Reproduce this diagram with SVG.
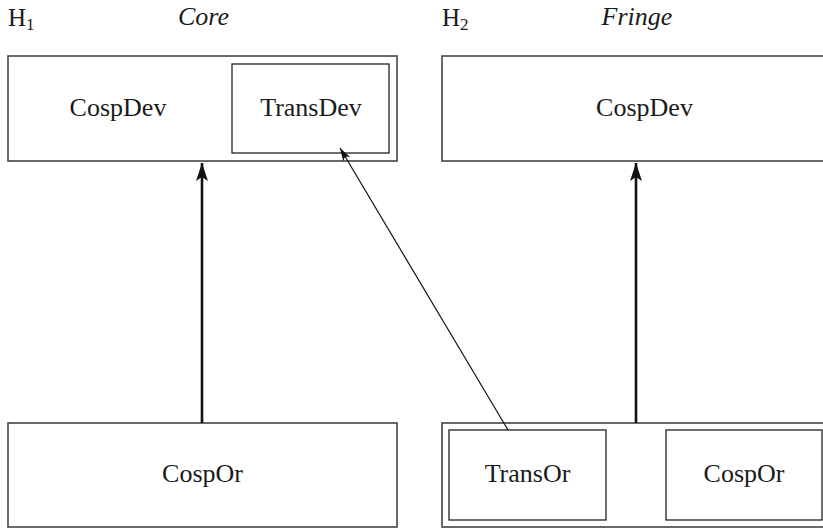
<svg xmlns="http://www.w3.org/2000/svg" width="823" height="529" viewBox="0 0 823 529">
<style>
  text { font-family: "Liberation Serif", "Times New Roman", serif; fill: #1a1a1a; }
  .lbl { font-size: 26px; text-anchor: middle; }
  .ttl { font-size: 26px; font-style: italic; text-anchor: middle; }
  .h { font-size: 25px; }
  .sub { font-size: 17px; }
  .outer { fill: none; stroke: #444; stroke-width: 1.6; }
  .inner { fill: none; stroke: #222; stroke-width: 1.3; }
  .thick { stroke: #111; stroke-width: 2.6; fill: none; }
  .thin { stroke: #111; stroke-width: 1.2; fill: none; }
</style>
<defs>
  <marker id="bigArrow" markerUnits="userSpaceOnUse" markerWidth="20" markerHeight="14" viewBox="0 0 20 14" refX="18" refY="7" orient="auto">
    <path d="M0,1 L18,7 L0,13 L4,7 Z" fill="#111"/>
  </marker>
  <marker id="smallArrow" markerUnits="userSpaceOnUse" markerWidth="14" markerHeight="10" viewBox="0 0 14 10" refX="13" refY="5" orient="auto">
    <path d="M0,1 L13,5 L0,9 L3,5 Z" fill="#111"/>
  </marker>
</defs>

<g id="headers">
  <text class="h" x="8" y="26">H<tspan class="sub" dy="4">1</tspan></text>
  <text class="ttl" x="203.5" y="25">Core</text>
  <text class="h" x="442" y="26">H<tspan class="sub" dy="4">2</tspan></text>
  <text class="ttl" x="637" y="25">Fringe</text>
</g>

<g id="h1-dev">
  <rect class="outer" x="8" y="56" width="389" height="105"/>
  <text class="lbl" x="118" y="116">CospDev</text>
</g>
<g id="h1-transdev">
  <rect class="inner" x="232" y="64" width="157" height="89"/>
  <text class="lbl" x="311" y="116">TransDev</text>
</g>

<g id="h2-dev">
  <rect class="outer" x="442" y="56" width="405" height="105"/>
  <text class="lbl" x="644.5" y="116">CospDev</text>
</g>

<g id="h1-or">
  <rect class="outer" x="8" y="423" width="389" height="104"/>
  <text class="lbl" x="202.5" y="482">CospOr</text>
</g>

<g id="h2-or">
  <rect class="outer" x="442" y="423" width="405" height="104"/>
</g>
<g id="h2-transor">
  <rect class="inner" x="449" y="430" width="157" height="90"/>
  <text class="lbl" x="527.5" y="482">TransOr</text>
</g>
<g id="h2-cospor">
  <rect class="inner" x="666" y="430" width="156" height="90"/>
  <text class="lbl" x="744" y="482">CospOr</text>
</g>

<g id="connectors">
  <line class="thick" x1="202" y1="423" x2="202" y2="163" marker-end="url(#bigArrow)"/>
  <line class="thick" x1="636" y1="423" x2="636" y2="163" marker-end="url(#bigArrow)"/>
  <line class="thin" x1="508" y1="430" x2="340" y2="148" marker-end="url(#smallArrow)"/>
</g>
</svg>
